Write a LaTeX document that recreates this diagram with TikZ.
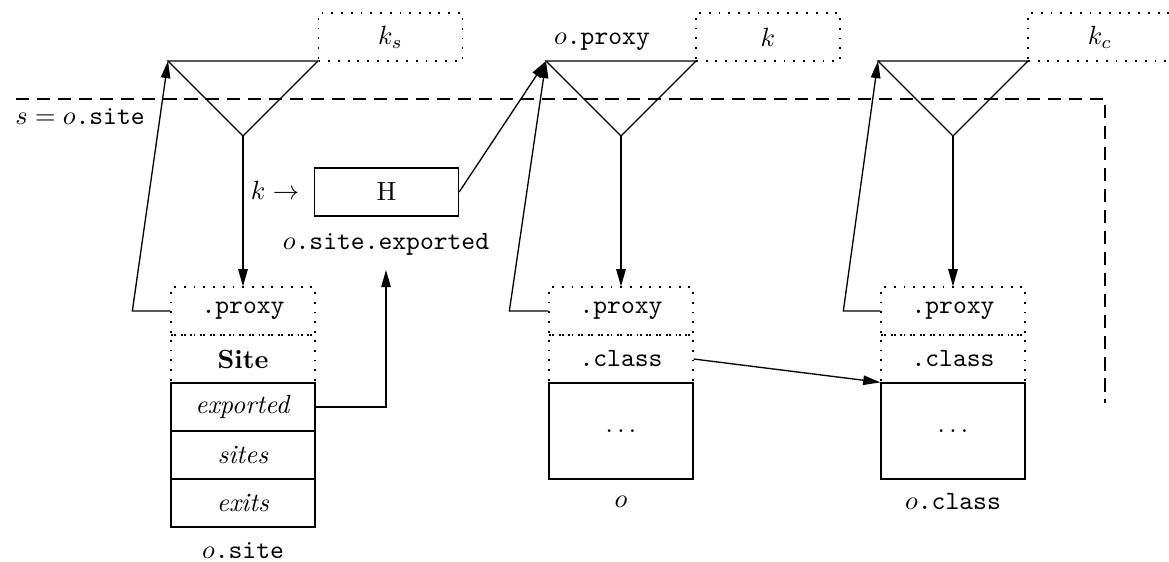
\documentclass[tikz,border=0pt]{standalone}
\usepackage{amsmath}
\usepackage{amssymb}
\usepackage{tikz}
\usetikzlibrary{arrows.meta}

\tikzset{
    field/.style={draw, dash pattern=on 0.7pt off 3pt, minimum width=54.72pt, minimum height=18.24pt, inner sep=0pt},
    slot/.style={draw, minimum width=54.72pt, minimum height=18.24pt, inner sep=0pt},
    objbody/.style={draw, minimum width=54.72pt, minimum height=36.48pt, inner sep=0pt},
    link/.style={-{Triangle[length=6.5pt,width=3.6pt]}},
    fence/.style={dash pattern=on 5pt off 3pt}
}

\begin{document}
\begin{tikzpicture}[x=0.38pt, y=-0.38pt, line width=0.5pt]
    \useasboundingbox (0,0) rectangle (1169,561);

    % Define nodes
    \coordinate (sl) at (168,61);
    \coordinate (sr) at (318,61);
    \coordinate (sb) at (243,136);

    \coordinate (ol) at (546,61);
    \coordinate (or) at (696,61);
    \coordinate (ob) at (621,136);

    \coordinate (cl) at (878,61);
    \coordinate (cr) at (1028,61);
    \coordinate (cb) at (953,136);

    \node[field] (ks) at (390.5,37) {$k_s$};
    \node[field] (ko) at (768,37) {$k$};
    \node[field] (kc) at (1100,37) {$k_c$};
    \node (oproxylbl) at (602,42) {$o$\texttt{.proxy}};

    \node[anchor=west] (slbl) at (6,117) {$s = o$\texttt{.site}};
    \coordinate (fa) at (16,99);
    \coordinate (fb) at (1105,99);
    \coordinate (fc) at (1105,403);

    \node (karrow) at (275,190) {$k \rightarrow$};
    \node[slot] (hash) at (386.5,192) {H};
    \node (hashlbl) at (386,244) {$o$\texttt{.site.exported}};
    \coordinate (xtip) at (386,270);

    \node[field] (sproxy) at (243,311) {\texttt{.proxy}};
    \node[field] (sname) at (243,359) {\textbf{Site}};
    \node[slot] (sexp) at (243,407) {\textit{exported}};
    \node[slot] (ssites) at (243,455) {\textit{sites}};
    \node[slot] (sexits) at (243,503) {\textit{exits}};
    \node (slabel) at (243,551) {$o$\texttt{.site}};

    \node[field] (oproxy) at (621,311) {\texttt{.proxy}};
    \node[field] (oclass) at (621,359) {\texttt{.class}};
    \node[objbody] (obody) at (621,431) {$\ldots$};
    \node (olabel) at (621,502) {$o$};

    \node[field] (cproxy) at (953,311) {\texttt{.proxy}};
    \node[field] (cclass) at (953,359) {\texttt{.class}};
    \node[objbody] (cbody) at (953,431) {$\ldots$};
    \node (clabel) at (953,502) {$o$\texttt{.class}};

    % Draw edges
    \draw[fence] (fa) -- (fb) -- (fc);

    \draw (sl) -- (sr) -- (sb) -- cycle;
    \draw (ol) -- (or) -- (ob) -- cycle;
    \draw (cl) -- (cr) -- (cb) -- cycle;

    \draw[link] (sb) -- (sproxy.north);
    \draw[link] (sproxy.west) -- ++(-38,0) -- (sl);
    \draw[link] (sexp.east) -| (xtip);

    \draw[link] (hash.east) -- (ol);
    \draw[link] (ob) -- (oproxy.north);
    \draw[link] (oproxy.west) -- ++(-39,0) -- (ol);

    \draw[link] (oclass.east) -- (cbody.north west);

    \draw[link] (cb) -- (cproxy.north);
    \draw[link] (cproxy.west) -- ++(-37,0) -- (cl);
\end{tikzpicture}
\end{document}
